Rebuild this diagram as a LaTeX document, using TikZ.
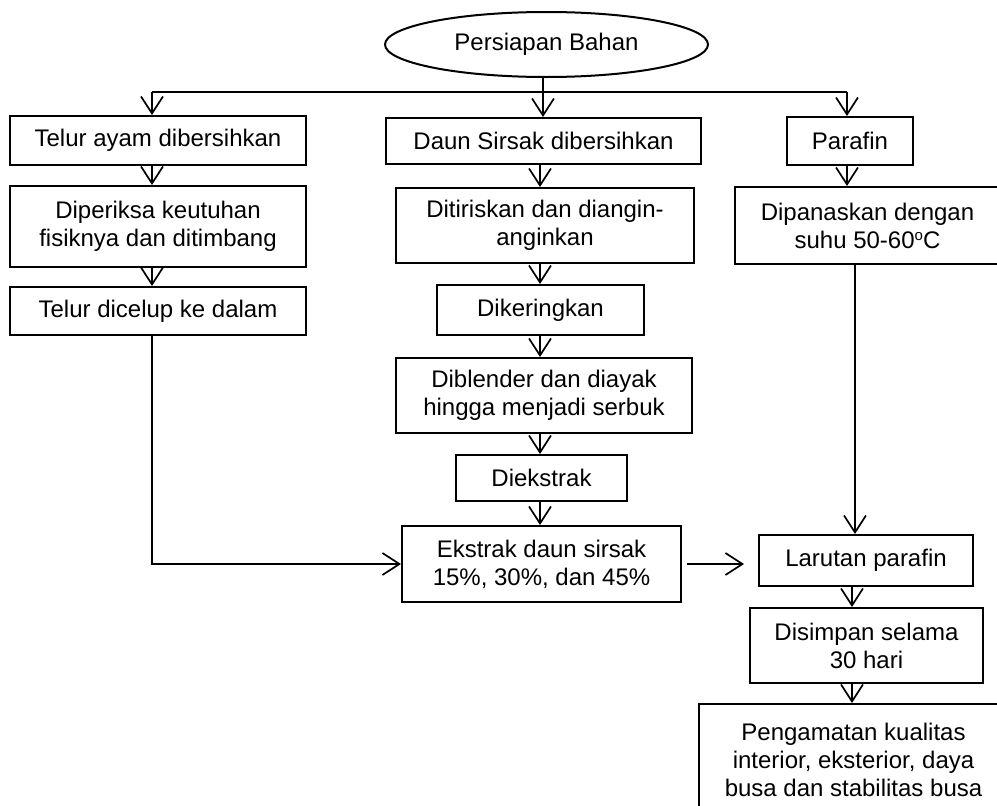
\documentclass[tikz,border=0pt]{standalone}
\usepackage{fontspec}
\setmainfont{Liberation Sans}
\usetikzlibrary{arrows.meta,shapes.geometric}
\begin{document}
\begin{tikzpicture}[x=1pt,y=-1pt,
  box/.style={draw, line width=2pt, inner sep=0pt, align=center, font=\fontsize{24}{28}\selectfont},
  arr/.style={-{Straight Barb[length=17pt,width=22pt]}, line width=1.7pt},
  conn/.style={line width=1.7pt}]
\useasboundingbox (0,0) rectangle (997,806);
\clip (0,0) rectangle (997,806);
\fill[white] (0,0) rectangle (997,806);
% top
\node[box, ellipse, minimum width=323pt, minimum height=65pt] (ell) at (546.5,44.5) {Persiapan Bahan};
% left column
\node[box, minimum width=296pt, minimum height=49pt] (b1) at (158,140.5) {Telur ayam dibersihkan};
\node[box, minimum width=296pt, minimum height=81pt] (b4) at (158,226.5) {Diperiksa keutuhan\\fisiknya dan ditimbang};
\node[box, minimum width=296pt, minimum height=48pt] (b5) at (158,311) {Telur dicelup ke dalam};
% middle column
\node[box, minimum width=315pt, minimum height=46pt] (b2) at (543.5,141) {Daun Sirsak dibersihkan};
\node[box, minimum width=298pt, minimum height=75pt] (m2) at (545,225.5) {Ditiriskan dan diangin-\\anginkan};
\node[box, minimum width=207pt, minimum height=50pt] (m3) at (540.5,310) {Dikeringkan};
\node[box, minimum width=296pt, minimum height=75pt] (m4) at (544,395.5) {Diblender dan diayak\\hingga menjadi serbuk};
\node[box, minimum width=171pt, minimum height=46pt] (m5) at (541.5,478) {Diekstrak};
\node[box, minimum width=279pt, minimum height=76pt] (m6) at (541.5,564) {Ekstrak daun sirsak\\15\%, 30\%, dan 45\%};
% right column
\node[box, minimum width=126pt, minimum height=48pt] (b3) at (850,141) {Parafin};
\node[box, minimum width=265pt, minimum height=77pt] (r2) at (867.5,225.5) {Dipanaskan dengan\\suhu 50-60{\fontsize{15}{15}\selectfont\raisebox{8pt}{o}}C};
\node[box, minimum width=214pt, minimum height=51pt] (r3) at (866,560.5) {Larutan parafin};
\node[box, minimum width=233pt, minimum height=75pt] (r4) at (866.5,645.5) {Disimpan selama\\30 hari};
\node[box, minimum width=309pt, minimum height=112pt] (r5) at (853.5,760) {Pengamatan kualitas\\interior, eksterior, daya\\busa dan stabilitas busa};
% junction coordinates
\coordinate (jl) at (152,92);
\coordinate (jm) at (543,92);
\coordinate (jr) at (847,92);
\coordinate (xm) at (540,0);
\coordinate (xr) at (852,0);
% top distribution
\draw[conn] (ell.south -| jm) -- (jm);
\draw[conn] (jl) -- (jr);
\draw[arr] (jl) -- (jl |- b1.north);
\draw[arr] (jm) -- (jm |- b2.north);
\draw[arr] (jr) -- (jr |- b3.north);
% left column
\draw[arr] (b1.south -| jl) -- (b4.north -| jl);
\draw[arr] (b4.south -| jl) -- (b5.north -| jl);
\draw[arr] (b5.south -| jl) |- (m6.west);
% middle column
\draw[arr] (b2.south -| xm) -- (m2.north -| xm);
\draw[arr] (m2.south -| xm) -- (m3.north -| xm);
\draw[arr] (m3.south -| xm) -- (m4.north -| xm);
\draw[arr] (m4.south -| xm) -- (m5.north -| xm);
\draw[arr] (m5.south -| xm) -- (m6.north -| xm);
% right column
\draw[arr] (b3.south -| jr) -- (r2.north -| jr);
\draw[arr] (855,264) coordinate (r2b) -- (r2b |- r3.north);
\draw[arr] (r3.south -| xr) -- (r4.north -| xr);
\draw[arr] (r4.south -| xr) -- (r5.north -| xr);
% cross arrow
\draw[arr, shorten <=5pt, shorten >=14pt] (m6.east) -- (r3.west |- m6.east);
\end{tikzpicture}
\end{document}
